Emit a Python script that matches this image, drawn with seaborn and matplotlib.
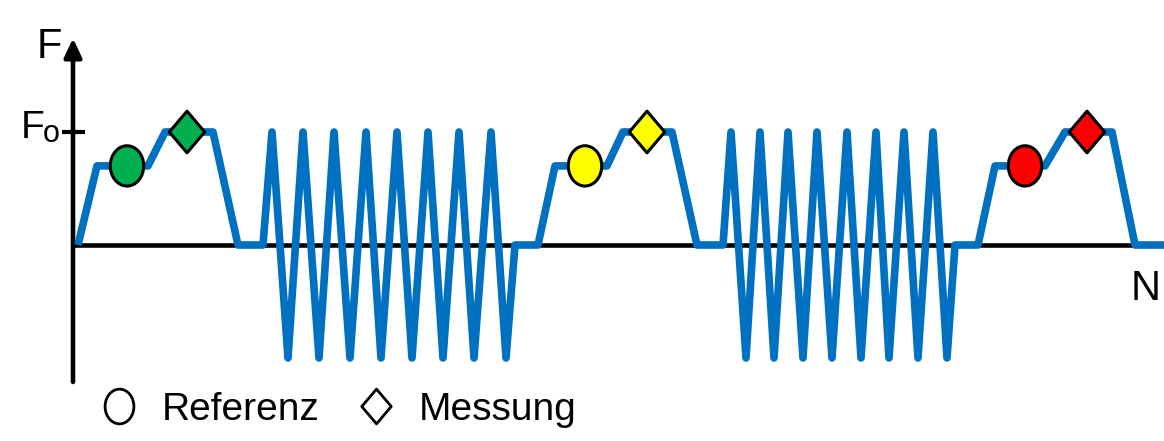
import matplotlib
matplotlib.use('Agg')
import matplotlib.pyplot as plt
import seaborn as sns
import pandas as pd
from matplotlib.path import Path
from matplotlib.lines import Line2D

# load sequence: cycle axis N, force F (F_o = 1)
n = [5, 24, 75, 92, 140, 165, 190,
     199, 215, 230, 246, 261, 277, 293, 308, 324, 339, 355, 370, 386, 401, 418, 433,
     442, 465, 482, 534, 550, 599, 624, 650,
     658, 673, 687, 701, 715, 730, 744, 759, 774, 788, 803, 816, 831, 845, 860, 874,
     882, 905, 922, 972, 992, 1039, 1062, 1091]
f = [0, 0.7, 0.7, 1, 1, 0, 0,
     1, -1, 1, -1, 1, -1, 1, -1, 1, -1, 1, -1, 1, -1, 1, -1,
     0, 0, 0.7, 0.7, 1, 1, 0, 0,
     1, -1, 1, -1, 1, -1, 1, -1, 1, -1, 1, -1, 1, -1, 1, -1,
     0, 0, 0.7, 0.7, 1, 1, 0, 0]

ref_n = [54, 512, 952]
ref_f = [0.7, 0.7, 0.7]
meas_n = [114, 574, 1014]
meas_f = [1, 1, 1]
block = ['1', '2', '3']
block_colors = {'1': '#00B050', '2': '#FFFF00', '3': '#FF0000'}

sns.set_theme(style='white')
plt.rcParams['font.family'] = ['Liberation Sans', 'DejaVu Sans']
plt.rcParams['text.color'] = 'black'

# slightly tall ellipse / diamond marker shapes
ellipse = Path.unit_circle().transformed(matplotlib.transforms.Affine2D().scale(0.83, 1.0))
diamond = Path([(0, 1), (0.85, 0), (0, -1), (-0.85, 0), (0, 1)],
               [Path.MOVETO, Path.LINETO, Path.LINETO, Path.LINETO, Path.CLOSEPOLY])

fig = plt.figure(figsize=(11.64, 4.41), dpi=100)
ax = fig.add_axes([0, 0, 1, 1])
ax.set_xlim(-73, 1091)
ax.set_ylim(-196 / 113, 245 / 113)
ax.axis('off')

# axes with arrow
ax.plot([0, 1091], [0, 0], color='black', lw=3.3, solid_capstyle='butt', zorder=1)
ax.annotate('', xy=(0, 1.83), xytext=(0, -1.212),
            arrowprops=dict(arrowstyle='-|>,head_length=0.75,head_width=0.35',
                            mutation_scale=15, lw=3.3, color='black',
                            shrinkA=0, shrinkB=0), zorder=1)
ax.plot([-11, 12], [1, 1], color='black', lw=3, solid_capstyle='butt', zorder=1)

df = pd.DataFrame({'N': n, 'F': f})
sns.lineplot(data=df, x='N', y='F', sort=False, estimator=None, color='#0070C0',
             linewidth=5.5, ax=ax, zorder=2, solid_joinstyle='round', solid_capstyle='butt')

ref = pd.DataFrame({'N': ref_n, 'F': ref_f, 'block': block})
meas = pd.DataFrame({'N': meas_n, 'F': meas_f, 'block': block})
sns.scatterplot(data=ref, x='N', y='F', hue='block', palette=block_colors,
                marker=ellipse, s=29 ** 2, edgecolor='black', linewidth=2.2,
                legend=False, ax=ax, zorder=3)
sns.scatterplot(data=meas, x='N', y='F', hue='block', palette=block_colors,
                marker=diamond, s=30 ** 2, edgecolor='black', linewidth=2.2,
                legend=False, ax=ax, zorder=3)

ax.text(-36, 1.655, 'F', fontsize=30, ha='left', va='baseline', color='black')
ax.text(-52, 0.947, 'F', fontsize=28, ha='left', va='baseline', color='black')
ax.text(-30, 0.91, 'o', fontsize=22, ha='left', va='baseline', color='black')
ax.text(1058, -0.487, 'N', fontsize=30, ha='left', va='baseline', color='black')

handles = [Line2D([], [], ls='none', marker=ellipse, ms=25, mfc='white', mec='black', mew=2),
           Line2D([], [], ls='none', marker=diamond, ms=25, mfc='white', mec='black', mew=2)]
fig.legend(handles, ['Referenz', 'Messung'], ncol=2, frameon=False, fontsize=28,
           loc='center left', bbox_to_anchor=(100 / 1164, 1 - 410 / 441),
           borderpad=0, borderaxespad=0, handlelength=1, handletextpad=0.6,
           columnspacing=0.95, labelcolor='black')

plt.savefig('out.png', dpi=100)
